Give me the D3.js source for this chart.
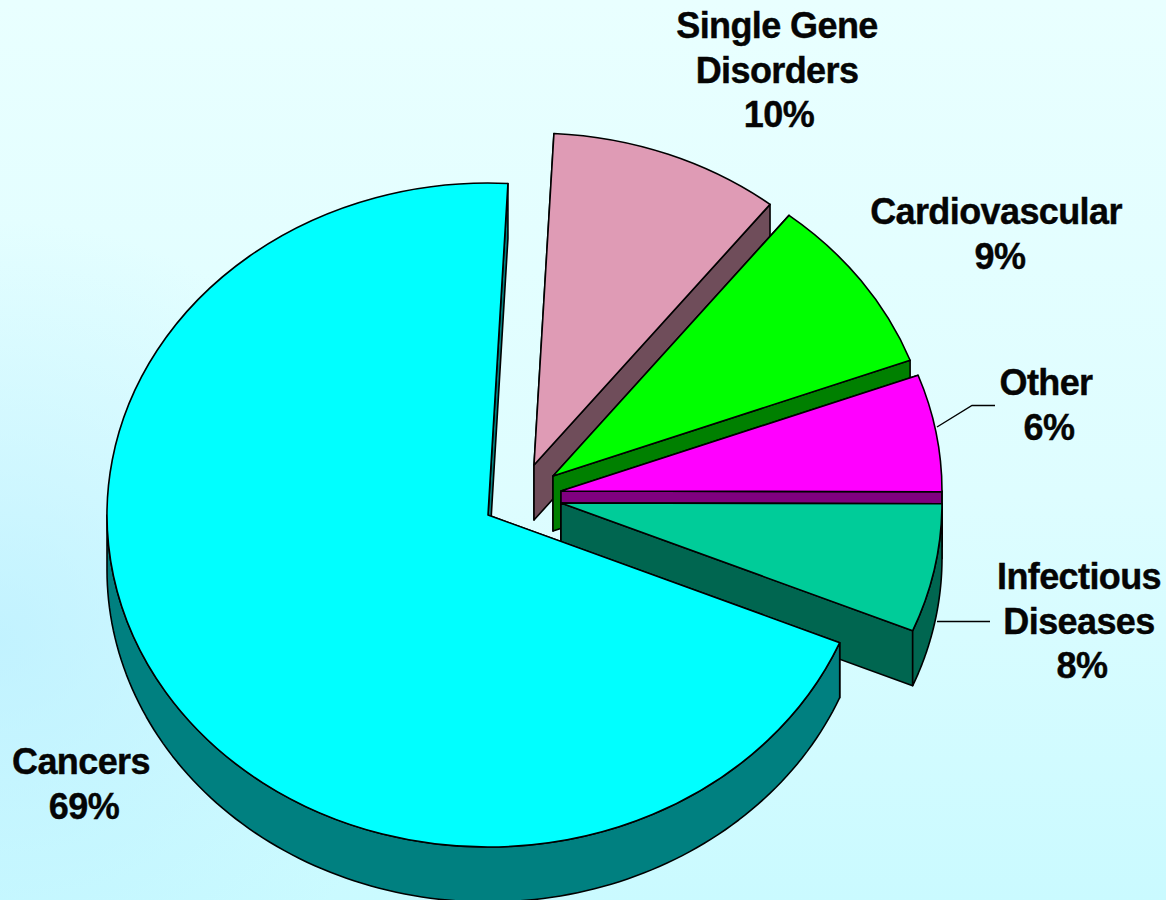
<!DOCTYPE html>
<html>
<head>
<meta charset="utf-8">
<script src="https://cdnjs.cloudflare.com/ajax/libs/d3/7.8.5/d3.min.js"></script>
<style>
  html, body { margin: 0; padding: 0; background: #dffcff; }
  svg { display: block; }
  text { font-family: "Liberation Sans", Arial, sans-serif; font-weight: bold; font-size: 36px; fill: #050505; stroke: #050505; stroke-width: 0.4px; text-anchor: middle; letter-spacing: -0.6px; }
</style>
</head>
<body>
<script>
// Slices in drawing order, clockwise from the top of the pie
const categories = ['Single Gene Disorders', 'Cardiovascular', 'Other', 'Infectious Diseases', 'Cancers'];
// Shares as measured from the slice angles (the printed labels add up to 102)
const sliceShares = [9.8, 8.7, 5.7, 6.25, 69.55];
const printedLabels = ['10%', '9%', '6%', '8%', '69%'];
const labelLines = [['Single Gene', 'Disorders'], ['Cardiovascular'], ['Other'], ['Infectious', 'Diseases'], ['Cancers']];
const topColors = ['#df9bb5', '#00ff00', '#ff00ff', '#00cc99', '#00ffff'];
const wallColors = ['#6f4d5a', '#008000', '#800080', '#006650', '#008080'];

// Layout
const width = 1166, height = 900;
const rx = 381, ry = 332, depth = 55;
const startAngle = 3 * Math.PI / 180;
// pie centre of every slice once pulled out
const centers = [[534, 465], [553, 476], [561, 491], [561, 503], [488, 515]];
const nameX = [777, 996, 1046, 1079, 81];
const percentX = [779, 1000, 1049, 1082, 84];
const firstBaseline = [38, 224, 395, 589, 774];
const lineGap = 44.5;

const svg = d3.select('body').append('svg')
    .attr('width', width)
    .attr('height', height);

// Background wash
const defs = svg.append('defs');
const wash = defs.append('linearGradient').attr('id', 'wash')
    .attr('x1', 0).attr('y1', 0).attr('x2', 0).attr('y2', 1);
wash.append('stop').attr('offset', '0%').attr('stop-color', '#e9ffff');
wash.append('stop').attr('offset', '55%').attr('stop-color', '#defdff');
wash.append('stop').attr('offset', '100%').attr('stop-color', '#cafaff');
const sideWash = defs.append('radialGradient').attr('id', 'sideWash')
    .attr('gradientUnits', 'userSpaceOnUse')
    .attr('cx', 0).attr('cy', 640).attr('r', 420);
sideWash.append('stop').attr('offset', '0%').attr('stop-color', '#b4ecff').attr('stop-opacity', 0.6);
sideWash.append('stop').attr('offset', '100%').attr('stop-color', '#b4ecff').attr('stop-opacity', 0);

svg.append('rect').attr('width', width).attr('height', height).attr('fill', 'url(#wash)');
svg.append('rect').attr('width', width).attr('height', height).attr('fill', 'url(#sideWash)');

const pie = d3.pie()
    .sort(null)
    .startAngle(startAngle)
    .endAngle(startAngle + 2 * Math.PI);
const slices = pie(sliceShares);

const arc = d3.arc().innerRadius(0).outerRadius(rx);
const line = d3.line();

// Point on the rim of a slice; angle is clockwise from the top
const rim = (a, c, drop = 0) => [c[0] + rx * Math.sin(a), c[1] - ry * Math.cos(a) + drop];

function edgeWall(a, c) {
    const p = rim(a, c);
    return line([c, p, [p[0], p[1] + depth], [c[0], c[1] + depth]]) + 'Z';
}

// Only the part of the rim facing the viewer gets a side
function rimWall(d, c) {
    const a0 = Math.max(d.startAngle, Math.PI / 2);
    const a1 = Math.min(d.endAngle, 3 * Math.PI / 2);
    if (a1 <= a0) return null;
    const angles = d3.range(0, 121).map(i => a0 + (a1 - a0) * i / 120);
    const upper = angles.map(a => rim(a, c));
    const lower = angles.map(a => rim(a, c, depth)).reverse();
    return line(upper.concat(lower)) + 'Z';
}

const sliceGroups = svg.selectAll('.slice')
    .data(slices)
    .enter().append('g')
    .attr('class', 'slice');

sliceGroups.each(function(d, i) {
    const g = d3.select(this);
    const c = centers[i];
    const walls = [edgeWall(d.startAngle, c), edgeWall(d.endAngle, c), rimWall(d, c)].filter(Boolean);
    g.selectAll('.wall')
        .data(walls)
        .enter().append('path')
        .attr('class', 'wall')
        .attr('d', w => w)
        .attr('fill', wallColors[i])
        .attr('stroke', '#000')
        .attr('stroke-width', 1.6)
        .attr('stroke-linejoin', 'round');
    g.append('path')
        .attr('d', arc(d))
        .attr('transform', `translate(${c[0]},${c[1]}) scale(1,${ry / rx})`)
        .attr('fill', topColors[i])
        .attr('stroke', '#000')
        .attr('stroke-width', 1.6)
        .attr('stroke-linejoin', 'round')
        .attr('vector-effect', 'non-scaling-stroke');
});

// Leader lines for Other and Infectious Diseases
const leaders = [[[937, 427], [972, 405.5], [995, 405.5]], [[937, 621.5], [990, 621.5]]];
svg.selectAll('.leader')
    .data(leaders)
    .enter().append('path')
    .attr('class', 'leader')
    .attr('d', d => line(d))
    .attr('fill', 'none')
    .attr('stroke', '#000')
    .attr('stroke-width', 1.4);

// Labels
categories.forEach((name, i) => {
    const t = svg.append('text');
    const lines = labelLines[i];
    lines.forEach((s, j) => {
        t.append('tspan')
            .attr('x', nameX[i])
            .attr('y', firstBaseline[i] + j * lineGap)
            .text(s);
    });
    t.append('tspan')
        .attr('x', percentX[i])
        .attr('y', firstBaseline[i] + lines.length * lineGap)
        .text(printedLabels[i]);
});
</script>
</body>
</html>
